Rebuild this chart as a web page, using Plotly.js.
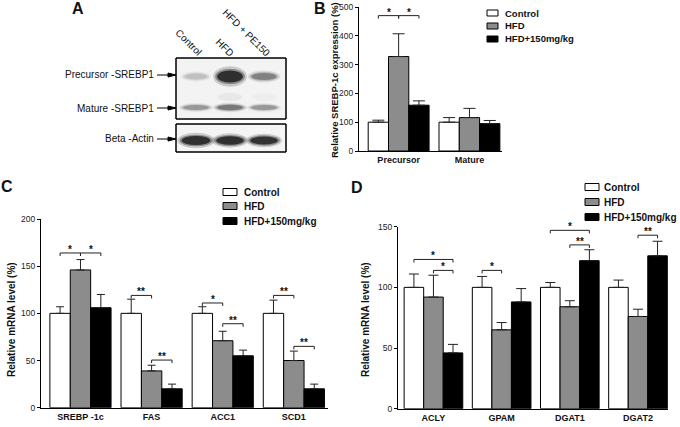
<!DOCTYPE html>
<html><head><meta charset="utf-8">
<script src="https://cdn.plot.ly/plotly-3.0.1.min.js"></script>
<style>html,body{margin:0;padding:0;background:#fff}#chart{width:680px;height:427px}</style>
</head><body><div id="chart"></div>
<script>
// ---------- data ----------
const groups = ['Control', 'HFD', 'HFD+150mg/kg'];

// Panel B: relative SREBP-1c expression (%)
const catsB = ['Precursor', 'Mature'];
const bControl = [100, 100];
const bControlErr = [7, 16];
const bHFD = [328, 116];
const bHFDErr = [79, 32];
const bPE = [159, 95];
const bPEErr = [15, 11];
// significance: [category, fromGroup, toGroup, level, label]
const sigB = [[0, 0, 1, 470, '*'], [0, 1, 2, 470, '*']];

// Panel C: relative mRNA level (%)
const catsC = ['SREBP -1c', 'FAS', 'ACC1', 'SCD1'];
const cControl = [100, 100, 100, 100];
const cControlErr = [7, 15, 7, 14];
const cHFD = [146, 39, 71, 50];
const cHFDErr = [11, 6, 10, 10];
const cPE = [106, 20, 55, 20];
const cPEErr = [14, 5, 6, 5];
const sigC = [[0, 0, 1, 164, '*'], [0, 1, 2, 164, '*'], [1, 0, 1, 119, '**'], [1, 1, 2, 50.5, '**'],
              [2, 0, 1, 111, '*'], [2, 1, 2, 89, '**'], [3, 0, 1, 119, '**'], [3, 1, 2, 65, '**']];

// Panel D: relative mRNA level (%)
const catsD = ['ACLY', 'GPAM', 'DGAT1', 'DGAT2'];
const dControl = [100, 100, 100, 100];
const dControlErr = [11, 9, 4, 6];
const dHFD = [92, 65, 84, 76];
const dHFDErr = [18, 6, 5, 6];
const dPE = [46, 88, 122, 126];
const dPEErr = [7, 11, 9, 12];
const sigD = [[0, 0, 2, 123, '*'], [0, 1, 2, 114, '*'], [1, 0, 1, 114, '*'],
              [2, 0, 2, 147, '*'], [2, 1, 2, 135, '**'], [3, 1, 2, 143, '**']];

// Panel A: western blot labels
const blotRows = ['Precursor -SREBP1', 'Mature -SREBP1', 'Beta -Actin'];
const blotLanes = ['Control', 'HFD', 'HFD + PE150'];

// ---------- styling ----------
const W = 680, H = 427;
const px = x => x / W;
const py = y => 1 - y / H;
const FONT = 'Liberation Sans, Arial, sans-serif';
const groupColors = ['#ffffff', '#8c8c8c', '#000000'];
const BARGAP = 0.14;
const BW = (1 - BARGAP) / 3;

function barTraces(cats, vals, errs, xa, ya, cap) {
  return groups.map((g, i) => ({
    type: 'bar', name: g, x: cats.map((_, j) => j), y: vals[i], xaxis: xa, yaxis: ya,
    marker: {color: groupColors[i], line: {color: '#000', width: 1}},
    error_y: {type: 'data', symmetric: false, array: errs[i], arrayminus: errs[i].map(() => 0),
              color: '#222', thickness: 1, width: cap},
    showlegend: false, hoverinfo: 'skip'
  }));
}

const data = [].concat(
  barTraces(catsB, [bControl, bHFD, bPE], [bControlErr, bHFDErr, bPEErr], 'x', 'y', 6),
  barTraces(catsC, [cControl, cHFD, cPE], [cControlErr, cHFDErr, cPEErr], 'x2', 'y2', 4),
  barTraces(catsD, [dControl, dHFD, dPE], [dControlErr, dHFDErr, dPEErr], 'x3', 'y3', 5)
);

const shapes = [];
const annotations = [];

function brackets(sigs, xr, yr, tick) {
  sigs.forEach(([c, g1, g2, y, lab]) => {
    const x1 = c + (g1 - 1) * BW, x2 = c + (g2 - 1) * BW;
    shapes.push({type: 'path', xref: xr, yref: yr,
      path: `M${x1},${y - tick} L${x1},${y} L${x2},${y} L${x2},${y - tick}`,
      line: {color: '#222', width: 1}});
    annotations.push({xref: xr, yref: yr, x: (x1 + x2) / 2, y: y, text: lab, showarrow: false,
      xanchor: 'center', yanchor: 'bottom', yshift: -4,
      font: {family: FONT, size: 10, color: '#111', weight: 700}});
  });
}
brackets(sigB, 'x', 'y', 10);
brackets(sigC, 'x2', 'y2', 3.2);
brackets(sigD, 'x3', 'y3', 2.5);

function legend(x, ys, bw, bh, tx, size) {
  groups.forEach((g, i) => {
    shapes.push({type: 'rect', xref: 'paper', yref: 'paper',
      x0: px(x), x1: px(x + bw), y0: py(ys[i] + bh / 2), y1: py(ys[i] - bh / 2),
      fillcolor: groupColors[i], line: {color: '#000', width: 1}});
    annotations.push({xref: 'paper', yref: 'paper', x: px(tx), y: py(ys[i]), text: g,
      showarrow: false, xanchor: 'left', yanchor: 'middle',
      font: {family: FONT, size: size, color: '#111', weight: 700}});
  });
}
legend(487, [13, 26, 39], 11, 6, 503, 9.5);
legend(223, [192, 206, 221], 14, 7, 242, 10);
legend(585, [187, 202, 217], 14, 7, 602, 10);

function label(x, y, text, size, extra) {
  annotations.push(Object.assign({xref: 'paper', yref: 'paper', x: px(x), y: py(y), text: text,
    showarrow: false, xanchor: 'center', yanchor: 'middle',
    font: {family: FONT, size: size, color: '#111', weight: 700}}, extra || {}));
}
// panel letters
label(78, 8, 'A', 16);
label(320, 8, 'B', 16);
label(7, 186, 'C', 16);
label(357, 187, 'D', 16);
// y titles
label(334, 80, 'Relative SREBP-1c expression (%)', 9.5, {textangle: -90});
label(11, 320, 'Relative mRNA level (%)', 10, {textangle: -90});
label(365, 320, 'Relative mRNA level (%)', 10, {textangle: -90});

// ---------- panel A (blot drawing) ----------
function ellipse(cx, cy, w, h, color, op) {
  shapes.push({type: 'circle', xref: 'paper', yref: 'paper',
    x0: px(cx - w / 2), x1: px(cx + w / 2), y0: py(cy + h / 2), y1: py(cy - h / 2),
    fillcolor: color, opacity: op, line: {width: 0}});
}
function band(cx, cy, w, h, color) {
  ellipse(cx, cy, w * 1.25, h * 1.7, color, 0.18);
  ellipse(cx, cy, w * 1.1, h * 1.3, color, 0.35);
  ellipse(cx, cy, w * 0.95, h, color, 0.75);
}
// blot frames
shapes.push({type: 'rect', xref: 'paper', yref: 'paper', x0: px(176), x1: px(286), y0: py(119), y1: py(58),
  fillcolor: '#f3f3f3', line: {color: '#000', width: 1}});
shapes.push({type: 'rect', xref: 'paper', yref: 'paper', x0: px(176), x1: px(286), y0: py(152), y1: py(124),
  fillcolor: '#f5f5f5', line: {color: '#000', width: 1}});
const laneX = [196, 230, 264];
// precursor
band(laneX[0], 76.5, 24, 6, '#b8b8b8');
band(laneX[1], 76.5, 27, 12, '#111111');
band(laneX[2], 76.5, 26, 7, '#707070');
ellipse(laneX[1], 97, 24, 8, '#dddddd', 0.5);
ellipse(laneX[2], 97, 24, 8, '#e4e4e4', 0.4);
// mature
band(laneX[0], 107.5, 27, 5, '#8a8a8a');
band(laneX[1], 107.5, 27, 5.5, '#666666');
band(laneX[2], 107.5, 27, 5, '#8a8a8a');
// actin
band(laneX[0], 140.5, 30, 9, '#111111');
band(laneX[1], 140.5, 29, 8.5, '#111111');
band(laneX[2], 140.5, 29, 8, '#151515');
shapes.push({type: 'rect', xref: 'paper', yref: 'paper', x0: px(176), x1: px(286), y0: py(119), y1: py(58),
  line: {color: '#000', width: 1}});
shapes.push({type: 'rect', xref: 'paper', yref: 'paper', x0: px(176), x1: px(286), y0: py(152), y1: py(124),
  line: {color: '#000', width: 1}});

// row labels + arrows
const rowY = [75, 108, 139];
blotRows.forEach((t, i) => {
  label(156, rowY[i], t, 10, {xanchor: 'right', font: {family: FONT, size: 10, color: '#111', weight: 400}});
  shapes.push({type: 'line', xref: 'paper', yref: 'paper', x0: px(157), x1: px(169), y0: py(rowY[i]), y1: py(rowY[i]),
    line: {color: '#000', width: 1}});
  shapes.push({type: 'path', xref: 'paper', yref: 'paper',
    path: `M${px(168)},${py(rowY[i] - 2)} L${px(176)},${py(rowY[i])} L${px(168)},${py(rowY[i] + 2)} Z`,
    fillcolor: '#000', line: {color: '#000', width: 1}});
});
// lane labels (rotated)
const laneLabelPos = [[189, 42], [225, 47], [246, 33]];
blotLanes.forEach((t, i) => {
  label(laneLabelPos[i][0], laneLabelPos[i][1], t, 10,
    {textangle: 45, font: {family: FONT, size: 10, color: '#111', weight: 400}});
});

// ---------- axes ----------
function xax(domain, range, cats, anchor) {
  return {domain: domain, range: range, anchor: anchor, tickvals: cats.map((_, j) => j), ticktext: cats,
    showline: true, linecolor: '#000', linewidth: 1, ticks: '', showgrid: false, zeroline: false,
    tickfont: {family: FONT, size: 9, color: '#111', weight: 700}, fixedrange: true};
}
function yax(domain, range, dtick, anchor) {
  return {domain: domain, range: range, dtick: dtick, anchor: anchor, showline: true, linecolor: '#000',
    linewidth: 1, ticks: 'outside', ticklen: 3, tickcolor: '#000', showgrid: false, zeroline: false,
    tickfont: {family: FONT, size: 8.5, color: '#222'}, fixedrange: true};
}

const layout = {
  width: W, height: H, margin: {l: 0, r: 0, t: 0, b: 0},
  paper_bgcolor: '#fff', plot_bgcolor: 'rgba(0,0,0,0)',
  barmode: 'group', bargap: BARGAP, bargroupgap: 0,
  showlegend: false,
  xaxis: xax([359 / W, 502 / W], [-0.56, 1.46], catsB, 'y'),
  yaxis: yax([1 - 151 / H, 1 - 7 / H], [0, 500], 100, 'x'),
  xaxis2: xax([41 / W, 328 / W], [-0.555, 3.48], catsC, 'y2'),
  yaxis2: yax([1 - 407.7 / H, 1 - 219 / H], [0, 200], 50, 'x2'),
  xaxis3: xax([398 / W, 668 / W], [-0.52, 3.44], catsD, 'y3'),
  yaxis3: yax([1 - 408.7 / H, 1 - 226.7 / H], [0, 150], 50, 'x3'),
  shapes: shapes,
  annotations: annotations
};

Plotly.newPlot('chart', data, layout, {displayModeBar: false, staticPlot: true});
</script>
</body></html>
